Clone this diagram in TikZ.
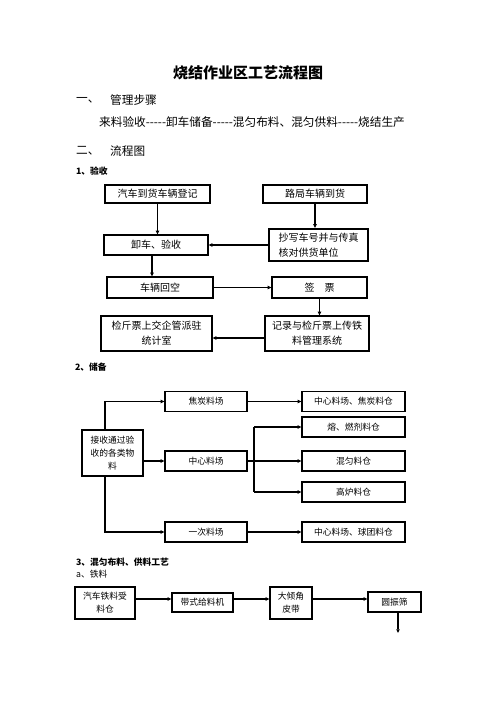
\documentclass[tikz,border=0pt]{standalone}
\usepackage{fontspec}
\newfontfamily\cjk{Noto Sans CJK SC}
\usetikzlibrary{arrows.meta}
\tikzset{
  bx/.style={draw, line width=1.5pt, inner sep=0pt, align=center},
  wh/.style 2 args={minimum width=#1*1.2pt, minimum height=#2*1.2pt},
  fA/.style={font=\cjk\fontsize{12}{18}\selectfont},
  fB/.style={font=\cjk\fontsize{10.5}{15.5}\selectfont},
  hd/.style={anchor=west, inner sep=0pt, font=\cjk\fontsize{14}{14}\selectfont},
  sub/.style={anchor=west, inner sep=0pt, font=\cjk\bfseries\fontsize{10.5}{10.5}\selectfont},
  arr/.style={line width=1.5pt, -{Triangle[length=4.5pt,width=4pt]}},
  ln/.style={line width=1.5pt}}
\begin{document}
\begin{tikzpicture}[x=1.2pt,y=-1.2pt]
\useasboundingbox (0,0) rectangle (496,702);

% headings
\node[font=\cjk\bfseries\fontsize{18}{18}\selectfont] (title) at (248,72.5) {烧结作业区工艺流程图};
\node[hd] (h1) at (76,100) {一、};
\node[hd] (h1t) at (110,100) {管理步骤};
\node[hd] (steps) at (99,122) {来料验收-----卸车储备-----混匀布料、混匀供料-----烧结生产};
\node[hd] (h2) at (76,151) {二、};
\node[hd] (h2t) at (110,151) {流程图};
\node[sub] (s1) at (76,171) {1、验收};
\node[sub] (s2) at (75,367) {2、储备};
\node[sub] (s3) at (76,562) {3、混匀布料、供料工艺};
\node[anchor=west, inner sep=0pt, font=\cjk\fontsize{10.5}{10.5}\selectfont] (s3a) at (76,574) {a、铁料};

% section 1
\node[bx,fA,wh={105}{18}] (a1) at (157.5,194) {汽车到货车辆登记};
\node[bx,fA,wh={104}{18}] (a2) at (315,194) {路局车辆到货};
\node[bx,fA,wh={104}{20}] (b1) at (156,245) {卸车、验收};
\node[bx,fA,wh={99}{32},line width=2.6pt,align=left] (b2) at (318.5,245) {抄写车号并与传真\\核对供货单位};
\node[bx,fA,wh={106}{21}] (c1) at (160,287.5) {车辆回空};
\node[bx,fA,wh={95}{21}] (c2) at (319.5,287.5) {签\hspace{1em}票};
\node[bx,fA,wh={111}{35}] (d1) at (156.5,333.5) {检斤票上交企管派驻\\统计室};
\node[bx,fA,wh={104}{35}] (d2) at (317,333.5) {记录与检斤票上传铁\\料管理系统};

\draw[arr] (a1.south) -- (a1.south |- b1.north);
\draw[arr] (a2.south) -- (a2.south |- b2.north);
\draw[arr] (b2.west) -- (b1.east);
\draw[arr] ([xshift=-4.8pt]b1.south) -- ([xshift=-4.8pt]b1.south |- c1.north);
\draw[arr] (c1.east) -- (c2.west);
\draw[arr] (c2.south) -- (c2.south |- d2.north);
\draw[arr] ([yshift=-5.4pt]d2.west) -- ([yshift=-5.4pt]d2.west -| d1.east);

% section 2
\node[bx,fB,wh={61}{46}] (s0) at (112.5,453) {接收通过验\\收的各类物\\料};
\node[bx,fB,wh={82}{20}] (j1) at (206,401.5) {焦炭料场};
\node[bx,fB,wh={82}{20}] (j2) at (206,461) {中心料场};
\node[bx,fB,wh={82}{20}] (j3) at (206,532) {一次料场};
\node[bx,fB,wh={103}{20}] (k1) at (353.5,401.5) {中心料场、焦炭料仓};
\node[bx,fB,wh={103}{20}] (k2) at (353.5,427) {熔、燃剂料仓};
\node[bx,fB,wh={103}{20}] (k3) at (353.5,461) {混匀料仓};
\node[bx,fB,wh={103}{20}] (k4) at (353.5,492) {高炉料仓};
\node[bx,fB,wh={103}{20}] (k5) at (353.5,532) {中心料场、球团料仓};

\coordinate (v) at (105,0);
\coordinate (br) at (254,0);
\draw[arr] (s0.north -| v) |- (j1.west);
\draw[arr] (s0.east |- j2.west) -- (j2.west);
\draw[arr] (s0.south -| v) |- (j3.west);
\draw[arr] (j1.east) -- (k1.west);
\draw[arr] (j2.east) -- (k3.west);
\draw[arr] (j3.east) -- (k5.west);
\draw[ln] (k2.west -| br) -- (k4.west -| br);
\draw[arr] (k2.west -| br) -- (k2.west);
\draw[arr] (k4.west -| br) -- (k4.west);

% section 3
\node[bx,fB,wh={60}{32}] (m1) at (105,603) {汽车铁料受\\料仓};
\node[bx,fB,wh={61}{19}] (m2) at (202.5,602.5) {带式给料机};
\node[bx,fB,wh={42}{32}] (m3) at (291,603) {大倾角\\皮带};
\node[bx,fB,wh={53}{20}] (m4) at (394.5,602) {圆振筛};
\coordinate (r3) at (0,599);
\coordinate (dn) at (398,633);
\draw[arr] (m1.east |- r3) -- (m2.west |- r3);
\draw[arr] (m2.east |- r3) -- (m3.west |- r3);
\draw[arr] (m3.east |- r3) -- (m4.west |- r3);
\draw[arr] (m4.south -| dn) -- (dn);
\end{tikzpicture}
\end{document}
